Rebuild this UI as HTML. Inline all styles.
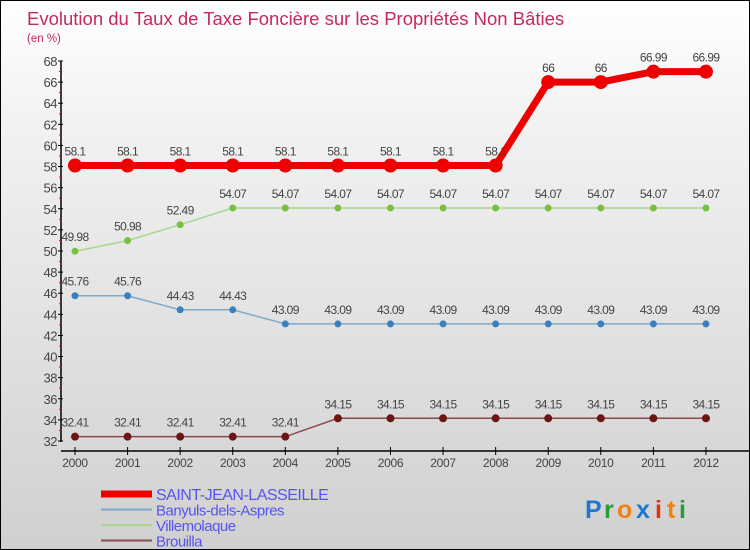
<!DOCTYPE html>
<html><head><meta charset="utf-8"><style>
body{margin:0}
#c{position:relative;width:748px;height:548px;border:1px solid #000;background:linear-gradient(#ffffff,#f3f3f3 20%,#d0d0d0);font-family:"Liberation Sans",sans-serif;overflow:hidden}
</style></head><body>
<div id="c">
<svg id="s" width="748" height="548" xmlns="http://www.w3.org/2000/svg"></svg>
</div>
<script>
const years=[2000,2001,2002,2003,2004,2005,2006,2007,2008,2009,2010,2011,2012];
const sjl=[58.1,58.1,58.1,58.1,58.1,58.1,58.1,58.1,58.1,66,66,66.99,66.99];
const ban=[45.76,45.76,44.43,44.43,43.09,43.09,43.09,43.09,43.09,43.09,43.09,43.09,43.09];
const vil=[49.98,50.98,52.49,54.07,54.07,54.07,54.07,54.07,54.07,54.07,54.07,54.07,54.07];
const bro=[32.41,32.41,32.41,32.41,32.41,34.15,34.15,34.15,34.15,34.15,34.15,34.15,34.15];
const yTicks=[32,34,36,38,40,42,44,46,48,50,52,54,56,58,60,62,64,66,68];
const names=["SAINT-JEAN-LASSEILLE","Banyuls-dels-Aspres","Villemolaque","Brouilla"];
const s=document.getElementById('s');const NS='http://www.w3.org/2000/svg';
const X=i=>74+i*52.58;const Y=v=>440-(v-32)*10.556;
function el(t,a,txt){const e=document.createElementNS(NS,t);for(const k in a)e.setAttribute(k,a[k]);if(txt!=null)e.textContent=txt;s.appendChild(e);return e;}
let e;
e=el('text',{x:26,y:24,'font-size':18.5,fill:'#c8285a'},'Evolution du Taux de Taxe Foncière sur les Propriétés Non Bâties');


e=el('text',{x:26,y:41,'font-size':11.5,fill:'#c8285a'},'(en %)');


e=el('line',{x1:60,y1:60,x2:60,y2:441,stroke:'#000','stroke-width':1.5});


e=el('line',{x1:60,y1:450,x2:748,y2:450,stroke:'#000','stroke-width':1.5});


yTicks.forEach((v,i)=>{
 e=el('line',{x1:57,x2:62,y1:Y(v),y2:Y(v),stroke:'#000'});
 
 
 if(i<yTicks.length-1){e=el('line',{x1:58,x2:61,y1:Y(v+1),y2:Y(v+1),stroke:'#e00'});
 
 }
 e=el('text',{x:56,y:Y(v)+5,'text-anchor':'end','font-size':13,fill:'#444','letter-spacing':'-0.5'},v);
 
 
});
years.forEach((y,i)=>{
 e=el('line',{x1:X(i),x2:X(i),y1:446,y2:454,stroke:'#000'});
 
 
 e=el('text',{x:X(i),y:466,'text-anchor':'middle','font-size':12,fill:'#444','letter-spacing':'-0.3'},y);
 
 
});
function series(d,col,w,r,pt,nm){
 e=el('polyline',{points:d.map((v,i)=>X(i)+','+Y(v)).join(' '),fill:'none',stroke:col,'stroke-width':w});
 
 
 d.forEach((v,i)=>{
  e=el('circle',{cx:X(i),cy:Y(v),r:r,fill:pt});
  
  
  e=el('text',{x:X(i),y:Y(v)-10,'text-anchor':'middle','font-size':12,fill:'#444','letter-spacing':'-0.6'},String(v));
  
  
 });
}
series(bro,'#8a4a4a',1.5,4,'#6b1515','brouilla');
series(ban,'#7fa8c8',1.5,3.5,'#3a80c0','banyuls');
series(vil,'#a8d890',1.5,3.5,'#7ac040','villemolaque');
series(sjl,'#ee0000',7,7,'#ee0000','saint-jean-lasseille');
const lc=['#ee0000','#7fa8c8','#a8d890','#8a4a4a'],lw=[7,2,2,2];
names.forEach((n,i)=>{
 const y=493+i*15.5;
 e=el('line',{x1:100,x2:151,y1:y,y2:y,stroke:lc[i],'stroke-width':lw[i]});
 
 
 e=el('text',{x:155,y:y+6,'font-size':i==0?16:15,fill:'#5555ee','letter-spacing':'-0.5'},n);
 
 
});
const lg=[['P','#1e78d2'],['r','#2a9a3a'],['o','#f08010'],['x','#1e78d2'],['i','#e03010'],['t','#f08010'],['i','#2a9a3a']];
let lx=584;
lg.forEach(([c,col])=>{e=el('text',{x:lx,y:517,'font-size':25,'font-weight':'bold',fill:col},c);
 
 
 lx+=c=='i'||c=='t'?12:(c=='r'?13:19);});
</script>
</body></html>
